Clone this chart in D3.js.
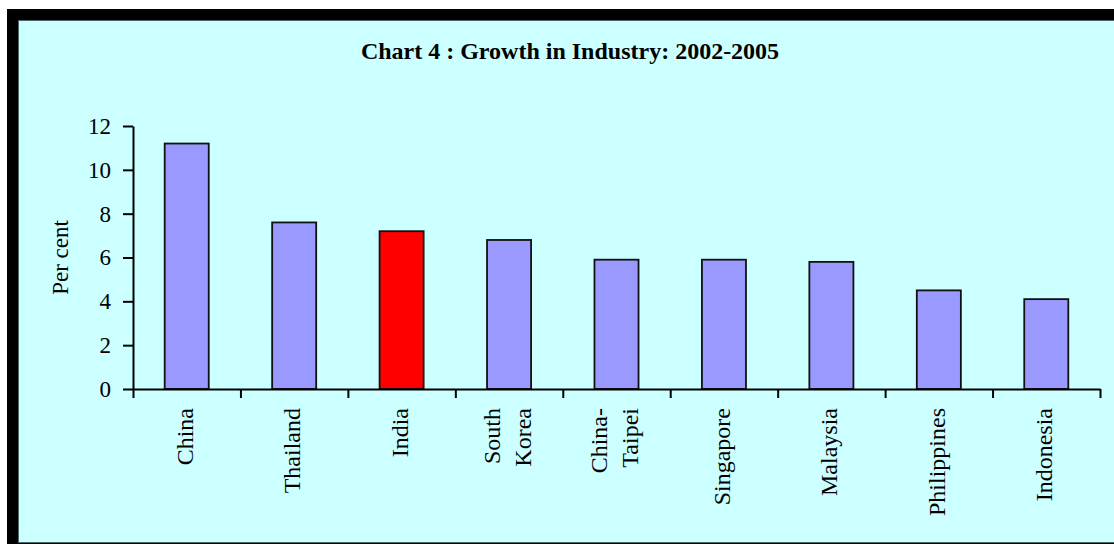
<!DOCTYPE html>
<html>
<head>
<meta charset="utf-8">
<script src="https://cdn.jsdelivr.net/npm/d3@7"></script>
<style>
  html, body { margin: 0; padding: 0; background: #fff; }
  svg { display: block; font-family: "Liberation Serif", "Times New Roman", serif; }
</style>
</head>
<body>
<div id="chart"></div>
<script>
// Growth in Industry 2002-2005 (per cent)
var categories = ["China", "Thailand", "India", "South\nKorea", "China-\nTaipei", "Singapore", "Malaysia", "Philippines", "Indonesia"];
var growth = [11.2, 7.6, 7.2, 6.8, 5.9, 5.9, 5.8, 4.5, 4.1];
var highlight = "India";
var yTicks = [0, 2, 4, 6, 8, 10, 12];
var titleText = "Chart 4 : Growth in Industry: 2002-2005";
var yLabel = "Per cent";

var W = 1114, H = 544;
var plot = { left: 133, right: 1100, top: 126, bottom: 389 };

var svg = d3.select("#chart").append("svg")
    .attr("width", W)
    .attr("height", H);

// frame: thick black border on top/left, cyan panel
svg.append("rect")
    .attr("x", 7).attr("y", 9)
    .attr("width", W).attr("height", H)
    .attr("fill", "#000");
svg.append("rect")
    .attr("x", 18.5).attr("y", 20.5)
    .attr("width", W).attr("height", 522)
    .attr("fill", "#ccffff")
    .attr("stroke", "#4a6a6a")
    .attr("stroke-width", 1);

svg.append("text")
    .attr("x", 570).attr("y", 59)
    .attr("text-anchor", "middle")
    .attr("font-size", 24)
    .attr("font-weight", "bold")
    .text(titleText);

var x = d3.scaleBand()
    .domain(categories)
    .range([plot.left, plot.right])
    .paddingInner(0.59)
    .paddingOuter(0.295);

var xb = d3.scaleLinear()
    .domain([0, categories.length])
    .range([plot.left, plot.right]);

var y = d3.scaleLinear()
    .domain([0, 12])
    .range([plot.bottom, plot.top]);

// bars
svg.append("g").selectAll("rect")
    .data(categories)
    .join("rect")
    .attr("x", function(d) { return x(d); })
    .attr("y", function(d, i) { return y(growth[i]); })
    .attr("width", x.bandwidth())
    .attr("height", function(d, i) { return y(0) - y(growth[i]); })
    .attr("fill", function(d) { return d === highlight ? "#ff0000" : "#9999ff"; })
    .attr("stroke", "#111")
    .attr("stroke-width", 1.8);

// y axis
var yAxis = d3.axisLeft(y)
    .tickValues(yTicks)
    .tickSize(10)
    .tickSizeOuter(0)
    .tickPadding(12)
    .tickFormat(d3.format("d"));

var gy = svg.append("g")
    .attr("transform", "translate(" + plot.left + ",0)")
    .call(yAxis);
gy.selectAll("path, line").attr("stroke", "#000").attr("stroke-width", 2);
gy.selectAll("text")
    .attr("font-size", 23)
    .attr("font-family", "Liberation Serif, Times New Roman, serif")
    .attr("fill", "#000");

// x axis with ticks at category boundaries
var xAxis = d3.axisBottom(xb)
    .tickValues(d3.range(categories.length + 1))
    .tickSize(9)
    .tickSizeOuter(0)
    .tickFormat("");

var gx = svg.append("g")
    .attr("transform", "translate(0," + plot.bottom + ")")
    .call(xAxis);
gx.selectAll("path, line").attr("stroke", "#000").attr("stroke-width", 2);

// rotated category labels
var lineGap = 31;
svg.append("g").selectAll("text")
    .data(categories)
    .join("text")
    .attr("transform", function(d) {
        return "translate(" + (x(d) + x.bandwidth() / 2) + "," + 408 + ") rotate(-90)";
    })
    .attr("text-anchor", "end")
    .attr("font-size", 24)
    .each(function(d) {
        var lines = d.split("\n");
        var t = d3.select(this);
        lines.forEach(function(s, i) {
            t.append("tspan")
                .attr("x", 0)
                .attr("y", 6 + (i - (lines.length - 1) / 2) * lineGap)
                .text(s);
        });
    });

// y axis title
svg.append("text")
    .attr("transform", "translate(68," + ((plot.top + plot.bottom) / 2) + ") rotate(-90)")
    .attr("text-anchor", "middle")
    .attr("font-size", 23)
    .text(yLabel);
</script>
</body>
</html>
